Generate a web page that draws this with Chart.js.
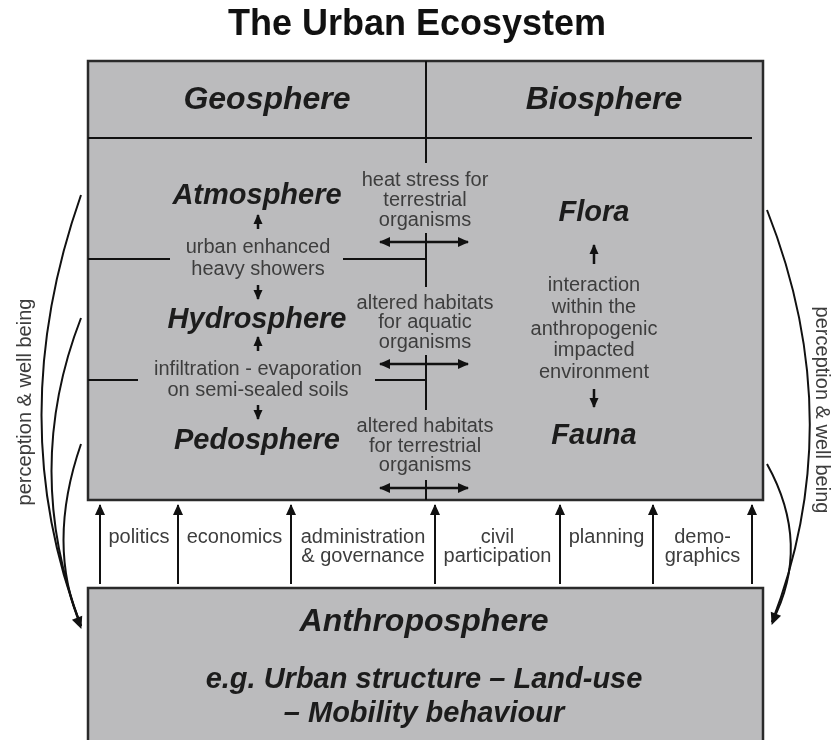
<!DOCTYPE html>
<html>
<head>
<meta charset="utf-8">
<script src="https://cdn.jsdelivr.net/npm/chart.js@4"></script>
<style>
  html, body { margin: 0; padding: 0; background: #fff; }
  #wrap { width: 834px; height: 740px; }
</style>
</head>
<body>
<div id="wrap"><canvas id="diagram" width="834" height="740"></canvas></div>
<script>
// Diagram texts
const titleText = 'The Urban Ecosystem';
const headers = ['Geosphere', 'Biosphere'];
const geoSpheres = ['Atmosphere', 'Hydrosphere', 'Pedosphere'];
const geoLinks = [['urban enhanced', 'heavy showers'], ['infiltration - evaporation', 'on semi-sealed soils']];
const crossLinks = [
  ['heat stress for', 'terrestrial', 'organisms'],
  ['altered habitats', 'for aquatic', 'organisms'],
  ['altered habitats', 'for terrestrial', 'organisms']
];
const bioSpheres = ['Flora', 'Fauna'];
const bioLink = ['interaction', 'within the', 'anthropogenic', 'impacted', 'environment'];
const drivers = [['politics'], ['economics'], ['administration', '& governance'], ['civil', 'participation'], ['planning'], ['demo-', 'graphics']];
const anthroTitle = 'Anthroposphere';
const anthroLines = ['e.g. Urban structure \u2013 Land-use', '\u2013 Mobility behaviour'];
const sideLabel = 'perception & well being';

// Layout (diagram units = px of the 834x740 page)
const mainBox = [88, 61, 763, 500];
const anthroBox = [88, 588, 763, 760];
const headerY = 138, midX = 426;
const headerX = [267, 604], headerTextY = 100;
const geoX = 257, geoY = [196, 320, 441];
const geoLinkY = [[247, 269], [369, 390]];
const crossY = [[180, 200, 220], [303, 322, 342], [426, 446, 465]];
const doubleArrowY = [242, 364, 488];
const bioX = 594, bioY = [213, 436], bioLinkY = [285, 307, 329, 350, 372];
const driverX = [100, 178, 291, 435, 560, 653, 752];
const driverTextY = [537, 556];

const FAM = '"Liberation Sans", Arial, sans-serif';
const BOX_FILL = '#bbbbbd';
const INK = '#1c1c1c';
const SOFT = '#3d3d3d';

// straight segments: [x1, y1, x2, y2, width]
const segments = [
  [88, headerY, 752, headerY, 2],
  [midX, 61, midX, 163, 2],
  [midX, 233, midX, 287, 2],
  [midX, 355, midX, 410, 2],
  [midX, 480, midX, 500, 2],
  [88, 259, 170, 259, 2], [343, 259, midX, 259, 2],
  [88, 380, 138, 380, 2], [375, 380, midX, 380, 2]
];
// arrows: [x1, y1, x2, y2, heads ('end' | 'both'), width, headSize]
const arrows = [
  [geoX + 1, 229, geoX + 1, 215, 'end', 2.5, 9],
  [geoX + 1, 285, geoX + 1, 299, 'end', 2.5, 9],
  [geoX + 1, 351, geoX + 1, 337, 'end', 2.5, 9],
  [geoX + 1, 405, geoX + 1, 419, 'end', 2.5, 9],
  [bioX, 264, bioX, 245, 'end', 2.5, 9],
  [bioX, 389, bioX, 407, 'end', 2.5, 9],
  ...doubleArrowY.map(y => [380, y, 468, y, 'both', 2.5, 10]),
  ...driverX.map(x => [x, 584, x, 505, 'end', 2, 10])
];
// perception curves: [x0, y0, cx, cy, x1, y1]
const curves = [
  [81, 195, 2, 420, 81, 626],
  [81, 318, 22, 470, 81, 626],
  [81, 444, 46, 545, 81, 626],
  [767, 210, 850, 420, 772, 622],
  [767, 464, 812, 545, 772, 622]
];

function lineDataset(p, w) {
  return {
    type: 'scatter', showLine: true, pointRadius: 0, borderColor: '#111',
    borderWidth: w, data: [{ x: p[0], y: p[1] }, { x: p[2], y: p[3] }]
  };
}

const datasets = [
  ...segments.map(s => lineDataset(s, s[4])),
  ...arrows.map(a => lineDataset(a, a[5]))
];

function head(ctx, x0, y0, x1, y1, size) {
  const ang = Math.atan2(y1 - y0, x1 - x0);
  ctx.save();
  ctx.translate(x1, y1);
  ctx.rotate(ang);
  ctx.beginPath();
  ctx.moveTo(1, 0);
  ctx.lineTo(-size, -size * 0.5);
  ctx.lineTo(-size, size * 0.5);
  ctx.closePath();
  ctx.fillStyle = '#111';
  ctx.fill();
  ctx.restore();
}

function txt(ctx, s, x, y, font, color, rot) {
  ctx.save();
  ctx.font = font;
  ctx.fillStyle = color;
  ctx.textAlign = 'center';
  ctx.textBaseline = 'middle';
  ctx.translate(x, y);
  if (rot) ctx.rotate(rot);
  ctx.fillText(s, 0, 0);
  ctx.restore();
}

const diagramPlugin = {
  id: 'diagram',
  beforeDatasetsDraw(chart) {
    const { ctx, scales } = chart;
    const X = v => scales.x.getPixelForValue(v), Y = v => scales.y.getPixelForValue(v);
    ctx.save();
    [mainBox, anthroBox].forEach(b => {
      ctx.fillStyle = BOX_FILL;
      ctx.fillRect(X(b[0]), Y(b[1]), X(b[2]) - X(b[0]), Y(b[3]) - Y(b[1]));
      ctx.strokeStyle = '#2a2a2a';
      ctx.lineWidth = 2.5;
      ctx.strokeRect(X(b[0]), Y(b[1]), X(b[2]) - X(b[0]), Y(b[3]) - Y(b[1]));
    });
    ctx.restore();
  },
  afterDatasetsDraw(chart) {
    const { ctx, scales } = chart;
    const X = v => scales.x.getPixelForValue(v), Y = v => scales.y.getPixelForValue(v);

    // arrow heads
    arrows.forEach(a => {
      const s = a[6] || 7;
      head(ctx, X(a[0]), Y(a[1]), X(a[2]), Y(a[3]), s);
      if (a[4] === 'both') head(ctx, X(a[2]), Y(a[3]), X(a[0]), Y(a[1]), s);
    });

    // perception curves
    ctx.save();
    ctx.strokeStyle = '#111';
    ctx.lineWidth = 2;
    curves.forEach(c => {
      ctx.beginPath();
      ctx.moveTo(X(c[0]), Y(c[1]));
      ctx.quadraticCurveTo(X(c[2]), Y(c[3]), X(c[4]), Y(c[5]));
      ctx.stroke();
    });
    ctx.restore();
    head(ctx, X(curves[0][2]), Y(curves[0][3]), X(81), Y(628), 11);
    head(ctx, X(curves[3][2]), Y(curves[3][3]), X(772), Y(624), 11);

    // title
    txt(ctx, titleText, X(417), Y(25), 'bold 36px ' + FAM, '#111');

    const small = '20px ' + FAM;
    const sphere = 'italic bold 29px ' + FAM;
    headers.forEach((h, i) => txt(ctx, h, X(headerX[i]), Y(headerTextY), 'italic bold 32px ' + FAM, INK));
    geoSpheres.forEach((g, i) => txt(ctx, g, X(geoX), Y(geoY[i]), sphere, INK));
    geoLinks.forEach((l, i) => l.forEach((s, j) => txt(ctx, s, X(geoX + 1), Y(geoLinkY[i][j]), small, SOFT)));
    crossLinks.forEach((l, i) => l.forEach((s, j) => txt(ctx, s, X(midX - 1), Y(crossY[i][j]), small, SOFT)));
    bioSpheres.forEach((b, i) => txt(ctx, b, X(bioX), Y(bioY[i]), sphere, INK));
    bioLink.forEach((s, j) => txt(ctx, s, X(bioX), Y(bioLinkY[j]), small, SOFT));

    drivers.forEach((d, i) => {
      const cx = (driverX[i] + driverX[i + 1]) / 2;
      d.forEach((s, j) => txt(ctx, s, X(cx), Y(driverTextY[j]), small, SOFT));
    });

    txt(ctx, anthroTitle, X(424), Y(622), 'italic bold 32px ' + FAM, INK);
    anthroLines.forEach((s, j) => txt(ctx, s, X(424), Y([680, 714][j]), 'italic bold 29px ' + FAM, INK));

    txt(ctx, sideLabel, X(25), Y(402), small, SOFT, -Math.PI / 2);
    txt(ctx, sideLabel, X(822), Y(410), small, SOFT, Math.PI / 2);
  }
};

new Chart(document.getElementById('diagram'), {
  type: 'scatter',
  data: { datasets },
  options: {
    responsive: false,
    animation: false,
    layout: { padding: 0 },
    plugins: { legend: { display: false }, tooltip: { enabled: false } },
    scales: {
      x: { type: 'linear', min: 0, max: 834, display: false },
      y: { type: 'linear', min: 0, max: 740, reverse: true, display: false }
    }
  },
  plugins: [diagramPlugin]
});
</script>
</body>
</html>
